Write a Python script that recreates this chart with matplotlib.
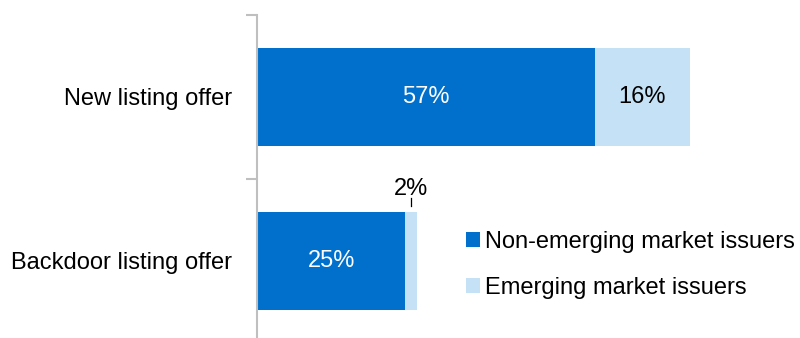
import matplotlib
matplotlib.use("Agg")
import matplotlib.pyplot as plt
from matplotlib.patches import Patch

categories = ["New listing offer", "Backdoor listing offer"]
non_emerging = [57, 25]
emerging = [16, 2]
series_names = ["Non-emerging market issuers", "Emerging market issuers"]
dark = "#0070CC"
light = "#C5E1F6"

plt.rcParams['font.family'] = ['Liberation Sans', 'DejaVu Sans']
FS = 17

W, H = 800, 338
fig = plt.figure(figsize=(W/100, H/100), dpi=100)
ax = fig.add_axes([257/W, -5/H, (W-257)/W, 328/H])

y = list(range(len(categories)))
ax.barh(y, non_emerging, height=0.6, color=dark)
ax.barh(y, emerging, left=non_emerging, height=0.6, color=light)

ax.set_ylim(1.5, -0.5)
ax.set_xlim(0, (W-257)/5.93)

for i in y:
    ax.text(non_emerging[i]/2, i, f"{non_emerging[i]}%", ha='center', va='center',
            color='white', fontsize=FS)
    if emerging[i] >= 5:
        ax.text(non_emerging[i] + emerging[i]/2, i, f"{emerging[i]}%", ha='center',
                va='center', color='black', fontsize=FS)
    else:
        xc = non_emerging[i] + emerging[i]/2
        ax.plot([xc, xc], [i - 0.336, i - 0.384], color='black', lw=0.9)
        ax.text(xc, i - 0.402, f"{emerging[i]}%", ha='center', va='baseline',
                fontsize=FS, color='black')

for s in ['top', 'right', 'bottom']:
    ax.spines[s].set_visible(False)
ax.spines['left'].set_color('#BFBFBF')
ax.spines['left'].set_linewidth(1.5)
ax.set_xticks([])
ax.set_yticks([-0.5, 0.5, 1.5], minor=False)
ax.set_yticklabels([])
ax.tick_params(axis='y', which='major', length=8, width=1.5, color='#BFBFBF')
ax.set_yticks(y, minor=True)
ax.set_yticklabels(categories, minor=True, fontsize=FS)
ax.tick_params(axis='y', which='minor', length=0, pad=18)

handles = [Patch(facecolor=dark), Patch(facecolor=light)]
ax.legend(handles, series_names, loc='upper left',
          bbox_to_anchor=(454/W, 1 - 219/H), bbox_transform=fig.transFigure,
          frameon=False, fontsize=FS, handlelength=0.6, handleheight=0.6,
          handletextpad=0.22, labelspacing=1.02, borderpad=0)

fig.savefig("out.png", dpi=100)
